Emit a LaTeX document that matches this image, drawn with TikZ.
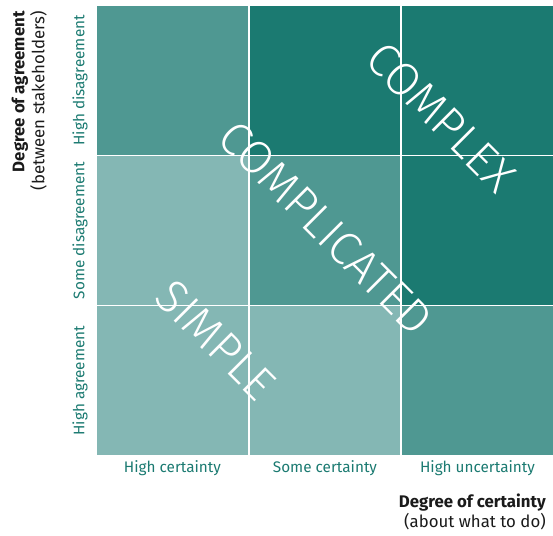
\documentclass[tikz,border=0pt]{standalone}
\usepackage{fontspec}
\setmainfont{Fira Sans}
\newfontfamily\thinfont{Fira Sans Light}
\definecolor{tealdark}{HTML}{1B7A71}
\definecolor{tealmid}{HTML}{4F9892}
\definecolor{teallight}{HTML}{84B7B4}
\definecolor{labelteal}{HTML}{1B7A71}
\definecolor{axisgrey}{HTML}{1A1A1A}
\tikzset{
  cell/.style={rectangle, inner sep=0pt, outer sep=0pt, minimum width=150.9pt, minimum height=148.6pt},
  levellabel/.style={text=labelteal, font=\fontsize{15.3}{18}\selectfont, inner sep=0pt},
  bigword/.style={text=white, font=\thinfont\fontsize{46.5}{50}\selectfont, rotate=-45, inner sep=0pt},
  axistitle/.style={text=axisgrey, font=\fontsize{16.8}{20}\selectfont, inner sep=0pt, align=right}
}
\begin{document}
\begin{tikzpicture}[x=1pt, y=-1pt]
\useasboundingbox (0,0) rectangle (553,535);
% 3x3 grid of cells: rows = agreement, columns = certainty
\node[cell, fill=tealmid]   (c11) at (172.45, 80.3) {};
\node[cell, fill=tealdark]  (c12) at (324.95, 80.3) {};
\node[cell, fill=tealdark]  (c13) at (477.45, 80.3) {};
\node[cell, fill=teallight] (c21) at (172.45, 230.5) {};
\node[cell, fill=tealmid]   (c22) at (324.95, 230.5) {};
\node[cell, fill=tealdark]  (c23) at (477.45, 230.5) {};
\node[cell, fill=teallight] (c31) at (172.45, 380.7) {};
\node[cell, fill=teallight] (c32) at (324.95, 380.7) {};
\node[cell, fill=tealmid]   (c33) at (477.45, 380.7) {};
% diagonal zone names
\node[bigword] (complex) at (441,117) {COMPLEX};
\node[bigword] (complicated) at (326,228) {COMPLICATED};
\node[bigword] (simple) at (216,340) {SIMPLE};
% row labels
\node[levellabel, rotate=90] (rl1) at (80, 80.3) {High disagreement};
\node[levellabel, rotate=90] (rl2) at (80, 230.5) {Some disagreement};
\node[levellabel, rotate=90] (rl3) at (80, 380.7) {High agreement};
% column labels
\node[levellabel] (cl1) at (172.45, 468) {High certainty};
\node[levellabel] (cl2) at (324.95, 468) {Some certainty};
\node[levellabel] (cl3) at (477.45, 468) {High uncertainty};
% axis titles
\node[axistitle, rotate=90, anchor=south east] (ytitle) at (47, 11) {\textbf{Degree of agreement}\\(between stakeholders)};
\node[axistitle, anchor=north east] (xtitle) at (546, 494) {\textbf{Degree of certainty}\\(about what to do)};
\end{tikzpicture}
\end{document}
